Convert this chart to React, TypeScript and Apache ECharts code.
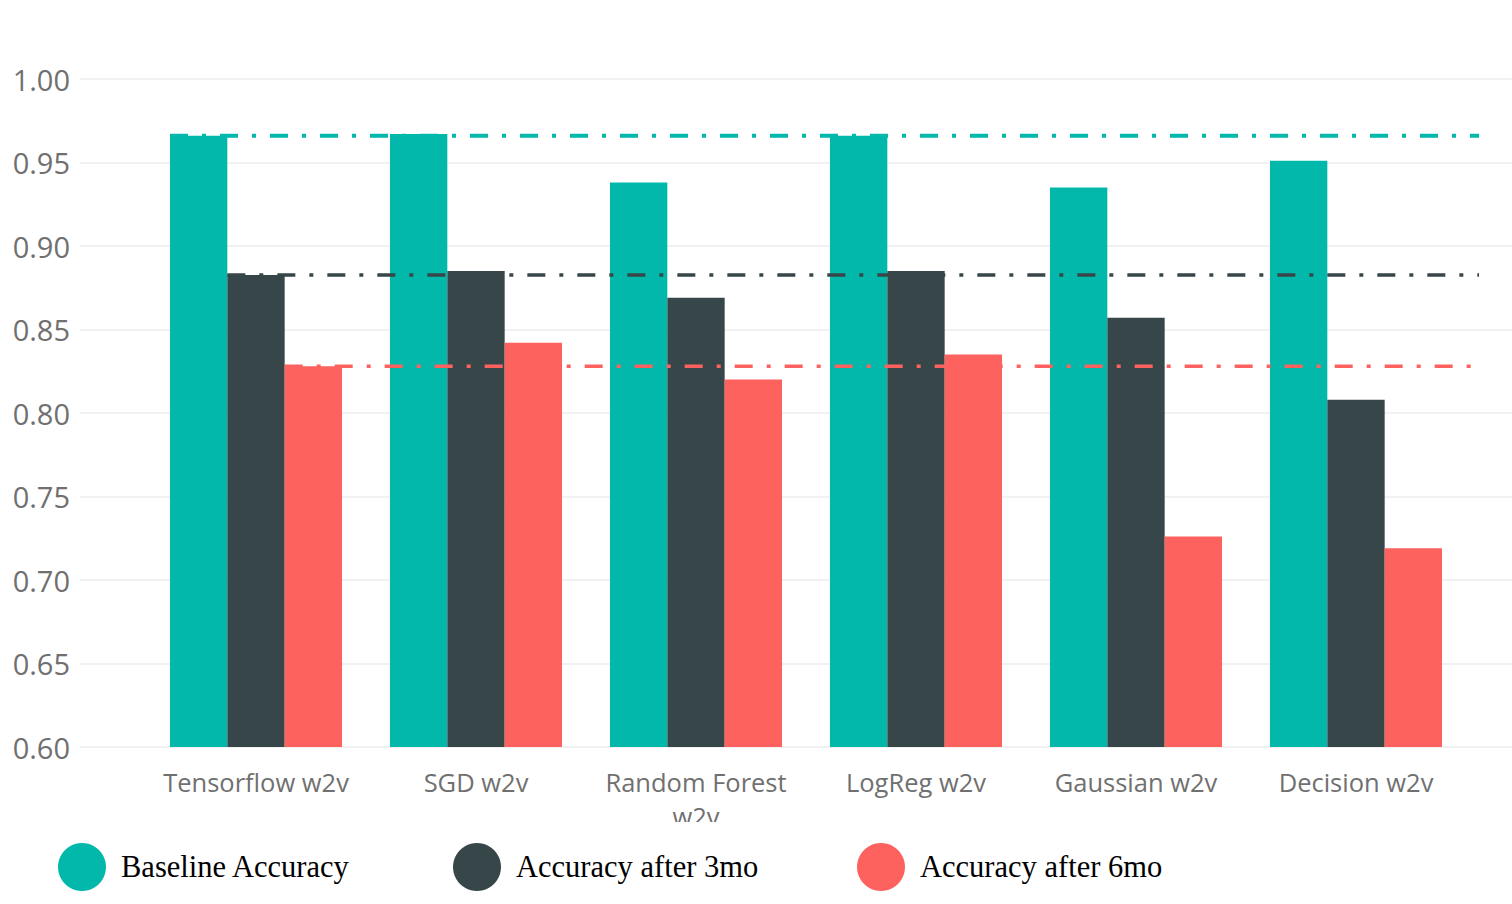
import React, { useEffect, useRef } from "react";
import * as echarts from "echarts";

const categories = [
  "Tensorflow w2v",
  "SGD w2v",
  "Random Forest w2v",
  "LogReg w2v",
  "Gaussian w2v",
  "Decision w2v",
];
const baseline = [0.966, 0.967, 0.938, 0.966, 0.935, 0.951];
const after3mo = [0.8826, 0.885, 0.869, 0.885, 0.857, 0.808];
const after6mo = [0.828, 0.842, 0.82, 0.835, 0.726, 0.719];
// reference lines at the first model's values
const refLines = [0.966, 0.8826, 0.828];
const seriesNames = ["Baseline Accuracy", "Accuracy after 3mo", "Accuracy after 6mo"];
const colors = ["#01B8AA", "#374649", "#FD625E"];
const yTicks = { min: 0.6, max: 1.0, interval: 0.05 };

const CAT_GAP = 0.218;

export default function App() {
  const ref = useRef<HTMLDivElement>(null);
  useEffect(() => {
    if (!ref.current) return;
    const chart = echarts.init(ref.current, undefined, { renderer: "svg" });
    const axisFont = "'Open Sans', 'Noto Sans', sans-serif";
    const serif = "'Liberation Serif', 'DejaVu Serif', serif";
    const legendLefts = [53, 448, 852];
    const option: any = {
      animation: false,
      backgroundColor: "#ffffff",
      grid: [
        { left: 80, right: 0, top: 79, bottom: 157 },
        { left: 146, right: 46, top: 79, bottom: 157 },
      ],
      xAxis: [
        { type: "category", gridIndex: 0, data: categories, show: false },
        {
          type: "category",
          gridIndex: 1,
          data: categories,
          axisLine: { show: false },
          axisTick: { show: false },
          axisLabel: {
            interval: 0,
            color: "#707070",
            fontFamily: axisFont,
            fontSize: 25.5,
            lineHeight: 34,
            margin: 18,
            formatter: (v: string) => (v.length > 15 ? v.replace(/ (\S+)$/, "\n$1") : v),
          },
        },
      ],
      yAxis: [
        {
          type: "value",
          gridIndex: 0,
          min: yTicks.min,
          max: yTicks.max,
          interval: yTicks.interval,
          axisLine: { show: false },
          axisTick: { show: false },
          splitLine: { lineStyle: { color: "#ececec", width: 1.5 } },
          axisLabel: {
            color: "#707070",
            fontFamily: axisFont,
            fontSize: 29,
            margin: 10,
            formatter: (v: number) => v.toFixed(2),
          },
        },
        {
          type: "value",
          gridIndex: 1,
          min: yTicks.min,
          max: yTicks.max,
          interval: yTicks.interval,
          show: false,
          splitLine: { show: false },
        },
      ],
      legend: seriesNames.map((n, i) => ({
        data: [n],
        left: legendLefts[i],
        top: 838,
        icon: "circle",
        itemWidth: 68,
        itemHeight: 48,
        textStyle: {
          color: "#000000",
          fontFamily: serif,
          fontSize: 30.5,
        },
      })),
      series: [
        ...[baseline, after3mo, after6mo].map((d, i) => ({
          type: "bar",
          name: seriesNames[i],
          data: d,
          xAxisIndex: 1,
          yAxisIndex: 1,
          barGap: "0%",
          barCategoryGap: CAT_GAP * 100 + "%",
          itemStyle: { color: colors[i] },
          z: 2,
        })),
        {
          type: "custom",
          name: "refLines",
          xAxisIndex: 1,
          yAxisIndex: 1,
          z: 5,
          silent: true,
          data: refLines.map((v, k) => [0, v, k]),
          renderItem: (params: any, api: any) => {
            const p = api.coord([api.value(0), api.value(1)]);
            const k = api.value(2);
            const band = api.size([1, 0])[0];
            const barW = (band * (1 - CAT_GAP)) / 3;
            const x0 = p[0] - 1.5 * barW + k * barW;
            const x1 = params.coordSys.x + params.coordSys.width + 13;
            return {
              type: "line",
              shape: { x1: x0, y1: p[1], x2: x1, y2: p[1] },
              style: {
                stroke: colors[k],
                lineWidth: k === 0 ? 4 : 3.5,
                lineDash: [18, 14, 4, 14],
              },
            };
          },
        },
      ],
      graphic: [
        {
          type: "rect",
          left: 560,
          top: 822,
          shape: { width: 300, height: 14 },
          style: { fill: "#ffffff" },
          z: 100,
        },
      ],
    };
    chart.setOption(option);
    return () => chart.dispose();
  }, []);
  return (
    <div
      ref={ref}
      style={{ position: "fixed", left: 0, top: 0, width: 1512, height: 904, background: "#fff" }}
    />
  );
}
